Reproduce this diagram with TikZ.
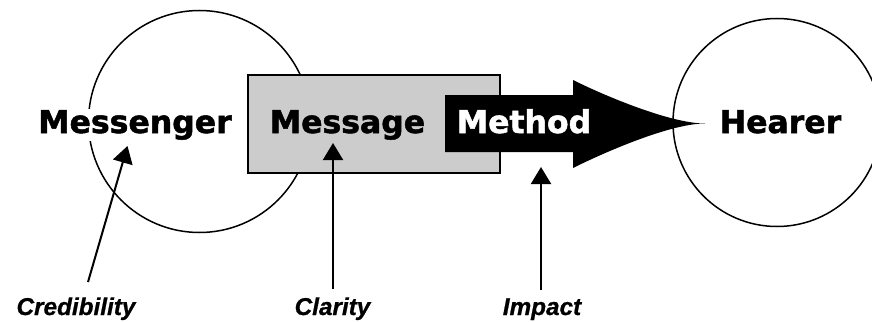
\documentclass[tikz,border=0pt]{standalone}
\usepackage{fontspec}
\usetikzlibrary{arrows.meta}
\newfontfamily\heavyfont{DejaVu Sans}[BoldFeatures={FakeBold=1.6}]
\newfontfamily\labfont{Liberation Sans}[BoldItalicFeatures={FakeBold=0.8}]
\definecolor{boxgray}{HTML}{CCCCCC}
\tikzset{
  ring/.style={draw=black, line width=1.5pt, circle, minimum size=#1, inner sep=0pt},
  bigword/.style={font=\heavyfont\bfseries\fontsize{31.5}{36}\selectfont, inner sep=1.5pt, anchor=base},
  labword/.style={font=\labfont\bfseries\itshape\fontsize{24.3}{28}\selectfont, inner sep=0pt, anchor=base},
  pointer/.style={line width=2pt, -{Triangle[length=17pt,width=20pt]}, shorten >=0pt}
}
\begin{document}
\begin{tikzpicture}[x=1pt,y=-1pt]
\useasboundingbox (0,0) rectangle (872,321);
% circles
\node[ring=222pt] (mc) at (199.5,121.5) {};
\node[ring=208pt] (hc) at (777,122.5) {};
% messenger text with white background
\node[bigword, fill=white] (messenger) at (135,133) {Messenger};
% message box
\node[draw=black, line width=2pt, fill=boxgray, minimum width=252pt, minimum height=98pt, inner sep=0pt] (msgbox) at (374,124) {};
\node[bigword] (message) at (347.5,133) {Message};
% method arrow
\path[fill=black] (445,95) -- (573,95) -- (573,80)
  .. controls (603,95) and (670,123.5) .. (705,123.5)
  .. controls (670,123.5) and (603,153) .. (573,168)
  -- (573,152) -- (445,152) -- cycle;
\node[bigword, text=white] (method) at (524,133) {Method};
\node[bigword] (hearer) at (780.5,133) {Hearer};
% labels
\node[labword] (cred) at (76,315) {Credibility};
\node[labword] (clar) at (332.5,315) {Clarity};
\node[labword] (imp) at (542,315) {Impact};
% arrow endpoints
\coordinate (credtip) at (127.5,146);
\coordinate (credtail) at (88,282);
\coordinate (clartip) at (333,143);
\coordinate (clartail) at (333,289);
\coordinate (imptip) at (541,167);
\coordinate (imptail) at (541,290);
\draw[pointer] (credtail) -- (credtip);
\draw[pointer] (clartail) -- (clartip);
\draw[pointer] (imptail) -- (imptip);
\end{tikzpicture}
\end{document}
